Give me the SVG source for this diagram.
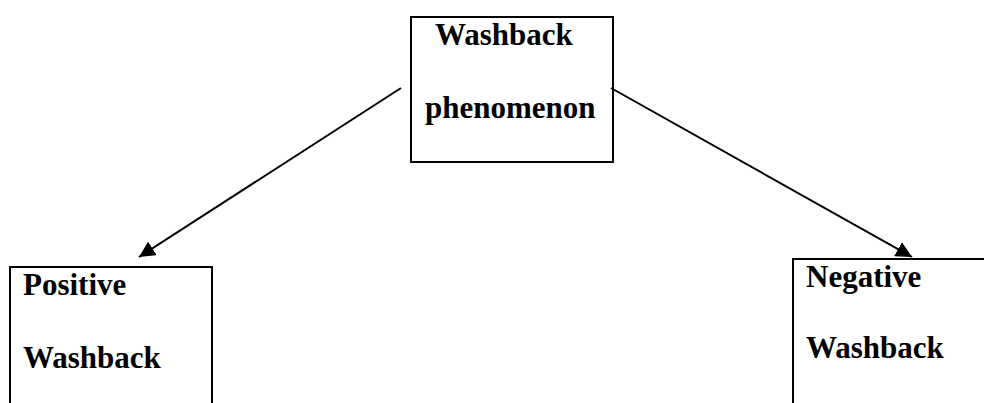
<svg xmlns="http://www.w3.org/2000/svg" width="984" height="403" viewBox="0 0 984 403">
<style>
.box{fill:#fff;stroke:#000;stroke-width:2}
.t{font-family:"Liberation Serif","Times New Roman",serif;font-weight:bold;font-size:31px;fill:#000}
.c{stroke:#000;stroke-width:2;fill:none;marker-end:url(#ah)}
</style>
<defs>
<marker id="ah" viewBox="0 0 10 10" refX="10" refY="5" markerWidth="8" markerHeight="8" markerUnits="strokeWidth" orient="auto">
<path d="M0,0 L10,5 L0,10 z" fill="#000"/>
</marker>
</defs>
<rect width="984" height="403" fill="#fff"/>
<g id="top">
<rect class="box" x="411" y="17" width="202" height="145"/>
<text class="t" x="435" y="45">Washback</text>
<text class="t" x="425" y="118">phenomenon</text>
</g>
<g id="positive">
<path class="box" d="M10,404 V267 H212 V404"/>
<text class="t" x="23" y="295">Positive</text>
<text class="t" x="23" y="368">Washback</text>
</g>
<g id="negative">
<path class="box" d="M793,404 V259 H986"/>
<text class="t" x="806" y="287">Negative</text>
<text class="t" x="806" y="358">Washback</text>
</g>
<g id="connectors">
<line class="c" x1="401" y1="88" x2="139" y2="257"/>
<line class="c" x1="611" y1="88" x2="912" y2="257"/>
</g>
</svg>
